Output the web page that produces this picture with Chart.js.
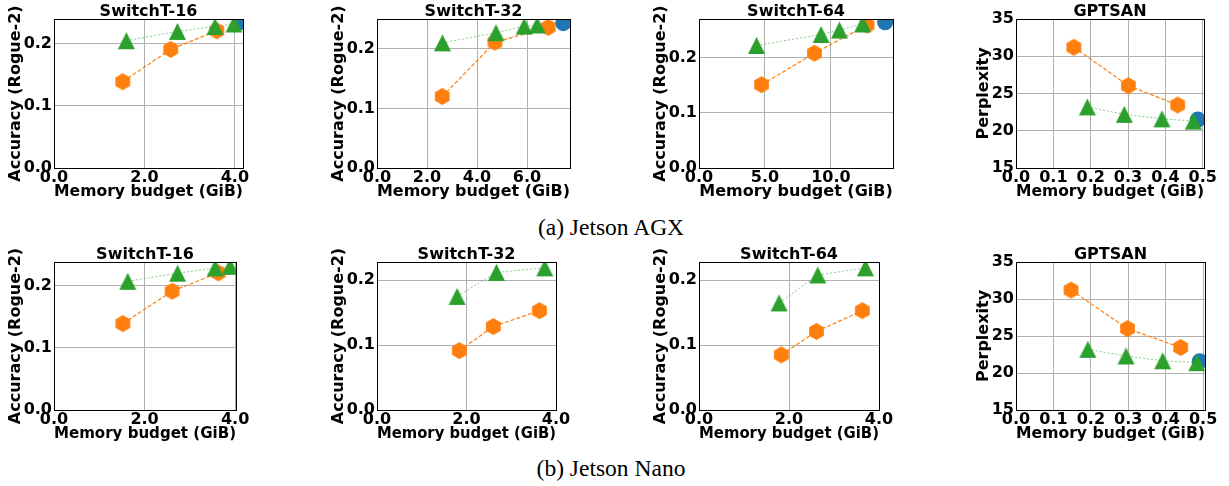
<!DOCTYPE html>
<html>
<head>
<meta charset="utf-8">
<script src="https://cdn.jsdelivr.net/npm/chart.js@4.4.1/dist/chart.umd.min.js"></script>
<style>
  body { margin: 0; background: #fff; width: 1229px; height: 486px; position: relative; overflow: hidden; }
  .panel { position: absolute; }
  .caption { position: absolute; left: 0; width: 1222px; text-align: center; font-family: "Liberation Serif", serif; font-size: 23.5px; line-height: 23.5px; color: #000; }
</style>
</head>
<body>
<div class="caption" style="top:216px">(a) Jetson AGX</div>
<div class="caption" style="top:457px">(b) Jetson Nano</div>
<script>
// Tick labels
const accTicks = ['0.0', '0.1', '0.2'];
const pplTicks = ['15', '20', '25', '30', '35'];
const memTicks4 = ['0.0', '2.0', '4.0'];
const memTicks8 = ['0.0', '2.0', '4.0', '6.0'];
const memTicks15 = ['0.0', '5.0', '10.0'];
const memTicksGpt = ['0.0', '0.1', '0.2', '0.3', '0.4', '0.5'];

// Jetson AGX, [memory GiB, score]
const agx16Tri = [[1.6, 0.205], [2.73, 0.22], [3.56, 0.228], [3.98, 0.232]];
const agx16Hex = [[1.52, 0.139], [2.58, 0.191], [3.6, 0.221]];
const agx16Dot = [[4.12, 0.235]];

const agx32Tri = [[2.62, 0.21], [4.76, 0.227], [5.89, 0.238], [6.41, 0.24]];
const agx32Hex = [[2.61, 0.12], [4.72, 0.211], [6.85, 0.236]];
const agx32Dot = [[7.45, 0.243]];

const agx64Tri = [[4.36, 0.222], [9.25, 0.242], [10.64, 0.25], [12.4, 0.261]];
const agx64Hex = [[4.74, 0.151], [8.75, 0.208], [12.73, 0.259]];
const agx64Dot = [[14.1, 0.264]];

const agxGptTri = [[0.191, 23.2], [0.29, 22.2], [0.391, 21.6], [0.475, 21.3]];
const agxGptHex = [[0.155, 31.2], [0.301, 26.05], [0.433, 23.45]];
const agxGptDot = [[0.487, 21.5]];

// Jetson Nano
const nano16Tri = [[1.63, 0.207], [2.73, 0.22], [3.56, 0.2285], [3.89, 0.231]];
const nano16Hex = [[1.52, 0.139], [2.61, 0.191], [3.63, 0.2205]];
const nano16Dot = [];

const nano32Tri = [[1.79, 0.175], [2.67, 0.212], [3.75, 0.219]];
const nano32Hex = [[1.84, 0.0915], [2.6, 0.1286], [3.63, 0.153]];
const nano32Dot = [];

const nano64Tri = [[1.78, 0.165], [2.64, 0.208], [3.7, 0.219]];
const nano64Hex = [[1.83, 0.085], [2.61, 0.121], [3.63, 0.153]];
const nano64Dot = [];

const nanoGptTri = [[0.192, 23.2], [0.294, 22.3], [0.392, 21.65], [0.483, 21.4]];
const nanoGptHex = [[0.147, 31.2], [0.298, 26.0], [0.44, 23.45]];
const nanoGptDot = [[0.491, 21.6]];

const ACC = 'Accuracy (Rogue-2)';
const PPL = 'Perplexity';

// plot box = [left, top, right, bottom] of the axes area in page pixels
const panels = [
  { title: 'SwitchT-16', tri: agx16Tri, hex: agx16Hex, dot: agx16Dot, xTicks: memTicks4, yTicks: accTicks, xMax: 4.18, yMin: 0, yMax: 0.24, yLabel: ACC, box: [54, 19, 243, 168], yw: 48 },
  { title: 'SwitchT-32', tri: agx32Tri, hex: agx32Hex, dot: agx32Dot, xTicks: memTicks8, yTicks: accTicks, xMax: 7.72, yMin: 0, yMax: 0.25, yLabel: ACC, box: [377, 19, 570, 168], yw: 48 },
  { title: 'SwitchT-64', tri: agx64Tri, hex: agx64Hex, dot: agx64Dot, xTicks: memTicks15, yTicks: accTicks, xMax: 14.7, yMin: 0, yMax: 0.27, yLabel: ACC, box: [699, 19, 893, 168], yw: 48 },
  { title: 'GPTSAN', tri: agxGptTri, hex: agxGptHex, dot: agxGptDot, xTicks: memTicksGpt, yTicks: pplTicks, xMax: 0.5035, yMin: 15, yMax: 35, yLabel: PPL, box: [1016, 19, 1204, 168], yw: 42 },
  { title: 'SwitchT-16', tri: nano16Tri, hex: nano16Hex, dot: nano16Dot, xTicks: memTicks4, yTicks: accTicks, xMax: 4.02, yMin: 0, yMax: 0.238, yLabel: ACC, box: [54, 262, 236, 410], yw: 48 },
  { title: 'SwitchT-32', tri: nano32Tri, hex: nano32Hex, dot: nano32Dot, xTicks: memTicks4, yTicks: accTicks, xMax: 4.0, yMin: 0, yMax: 0.228, yLabel: ACC, box: [377, 262, 556, 410], yw: 48 },
  { title: 'SwitchT-64', tri: nano64Tri, hex: nano64Hex, dot: nano64Dot, xTicks: memTicks4, yTicks: accTicks, xMax: 4.0, yMin: 0, yMax: 0.228, yLabel: ACC, box: [699, 262, 879, 410], yw: 48 },
  { title: 'GPTSAN', tri: nanoGptTri, hex: nanoGptHex, dot: nanoGptDot, xTicks: memTicksGpt, yTicks: pplTicks, xMax: 0.505, yMin: 15, yMax: 35, yLabel: PPL, box: [1016, 262, 1205, 410], yw: 42 },
];

const BLUE = '#1f77b4', ORANGE = '#ff7f0e', GREEN = '#2ca02c';
const TITLE_H = 22, XAXIS_H = 33, PAD_R = 24, PAD_B = 6;
const FONT = "'DejaVu Sans', sans-serif";

Chart.defaults.font.family = FONT;
Chart.defaults.font.size = 16;
Chart.defaults.font.weight = 'bold';
Chart.defaults.color = '#000';

// matplotlib-like 'h' marker (vertex up)
function hexagonMark(r, color) {
  const s = Math.ceil(r * 2) + 2;
  const c = document.createElement('canvas');
  c.width = s; c.height = s;
  const g = c.getContext('2d');
  g.translate(s / 2, s / 2);
  g.beginPath();
  for (let i = 0; i < 6; i++) {
    const a = Math.PI / 3 * i - Math.PI / 2;
    g.lineTo(r * Math.cos(a), r * Math.sin(a));
  }
  g.closePath();
  g.fillStyle = color;
  g.fill();
  return c;
}

// matplotlib-like '^' marker (as wide as tall)
function triangleMark(size, color) {
  const s = size + 2;
  const c = document.createElement('canvas');
  c.width = s; c.height = s;
  const g = c.getContext('2d');
  g.beginPath();
  g.moveTo(s / 2, 1);
  g.lineTo(1, s - 1);
  g.lineTo(s - 1, s - 1);
  g.closePath();
  g.fillStyle = color;
  g.fill();
  return c;
}

const hexImg = hexagonMark(8.5, ORANGE);
const triImg = triangleMark(17, GREEN);

// axes frame (all four spines) + subplot title centred over the axes
const framePlugin = {
  id: 'frame',
  afterDatasetsDraw(chart, args, opts) {
    const { ctx, chartArea: a } = chart;
    const px = v => Math.round(v - 0.5) + 0.5;
    ctx.save();
    ctx.strokeStyle = '#000';
    ctx.lineWidth = 1;
    ctx.strokeRect(px(a.left), px(a.top), px(a.right) - px(a.left), px(a.bottom) - px(a.top));
    ctx.fillStyle = '#000';
    ctx.font = 'bold 16px ' + FONT;
    ctx.textAlign = 'center';
    ctx.textBaseline = 'alphabetic';
    ctx.fillText(opts.text, (a.left + a.right) / 2, a.top - 3);
    ctx.restore();
  }
};

function toPoints(arr) {
  return arr.map(p => ({ x: p[0], y: p[1] }));
}

function fixedTicks(labels) {
  return scale => { scale.ticks = labels.map(t => ({ value: parseFloat(t) })); };
}

panels.forEach(p => {
  const [L, T, R, B] = p.box;
  const w = p.yw + (R - L) + PAD_R;
  const h = TITLE_H + (B - T) + XAXIS_H + PAD_B;

  const div = document.createElement('div');
  div.className = 'panel';
  div.style.left = (L - p.yw) + 'px';
  div.style.top = (T - TITLE_H) + 'px';
  const canvas = document.createElement('canvas');
  canvas.width = w; canvas.height = h;
  canvas.style.width = w + 'px'; canvas.style.height = h + 'px';
  div.appendChild(canvas);
  document.body.appendChild(div);

  new Chart(canvas, {
    type: 'scatter',
    data: {
      datasets: [
        {
          label: 'triangle',
          data: toPoints(p.tri),
          showLine: true,
          borderColor: 'rgba(44,160,44,0.55)',
          borderWidth: 1,
          borderDash: [2, 2],
          pointStyle: triImg,
          pointRadius: 8,
          clip: 0
        },
        {
          label: 'hexagon',
          data: toPoints(p.hex),
          showLine: true,
          borderColor: ORANGE,
          borderWidth: 1.2,
          borderDash: [4, 2],
          pointStyle: hexImg,
          pointRadius: 8,
          clip: 0
        },
        {
          label: 'circle',
          data: toPoints(p.dot),
          showLine: false,
          pointStyle: 'circle',
          pointRadius: 8,
          backgroundColor: BLUE,
          borderWidth: 0,
          clip: 0
        }
      ]
    },
    options: {
      responsive: false,
      animation: false,
      devicePixelRatio: 1,
      layout: { padding: { left: 0, top: TITLE_H, right: PAD_R, bottom: PAD_B } },
      plugins: {
        legend: { display: false },
        tooltip: { enabled: false },
        title: { display: false },
        frame: { text: p.title }
      },
      scales: {
        x: {
          type: 'linear',
          min: 0,
          max: p.xMax,
          afterBuildTicks: fixedTicks(p.xTicks),
          afterFit: s => { s.height = XAXIS_H; },
          grid: { color: '#b0b0b0', lineWidth: 1, drawTicks: false },
          border: { display: false },
          ticks: {
            autoSkip: false,
            maxRotation: 0,
            minRotation: 0,
            padding: 0,
            callback: (v, i) => p.xTicks[i]
          },
          title: { display: true, text: 'Memory budget (GiB)', padding: 0 }
        },
        y: {
          type: 'linear',
          min: p.yMin,
          max: p.yMax,
          afterBuildTicks: fixedTicks(p.yTicks),
          afterFit: s => { s.width = p.yw; },
          grid: { color: '#b0b0b0', lineWidth: 1, drawTicks: false },
          border: { display: false },
          ticks: {
            autoSkip: false,
            padding: 2,
            callback: (v, i) => p.yTicks[i]
          },
          title: { display: true, text: p.yLabel, padding: 0 }
        }
      }
    },
    plugins: [framePlugin]
  });
});
</script>
</body>
</html>
